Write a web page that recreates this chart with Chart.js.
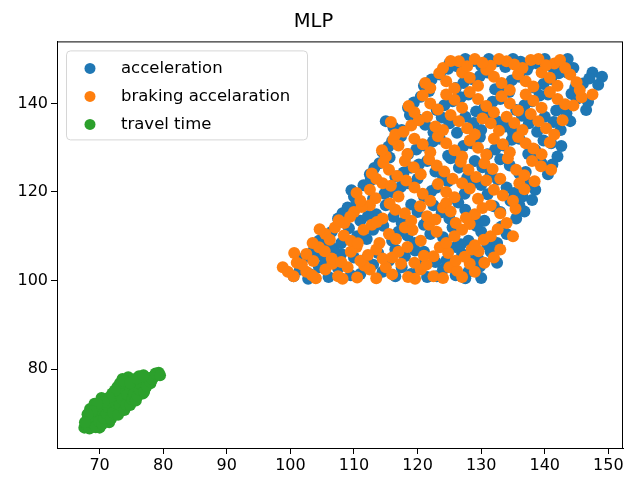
<!DOCTYPE html>
<html>
<head>
<meta charset="utf-8">
<script src="https://cdn.jsdelivr.net/npm/chart.js@4.4.1/dist/chart.umd.min.js"></script>
<style>
  body { margin: 0; background: #fff; }
  #contenedor { width: 629px; height: 479px; }
</style>
</head>
<body>
<div id="contenedor"><canvas id="grafica"></canvas></div>
<script>
// ==================== DATOS ====================
const titulo = 'MLP';
const etiquetas = ['acceleration', 'braking accelaration', 'travel time'];
const colores = ['#1f77b4', '#ff7f0e', '#2ca02c'];
const ticksX = [70, 80, 90, 100, 110, 120, 130, 140, 150];
const ticksY = [80, 100, 120, 140];

// puntos [x, y]
const acceleration = [
    [100.5,101],[101.5,102.5],[103,101.5],[104.5,103],[106,100.8],[111,101.5],[114.5,102],[116.5,101],[117.5,103],[119,101.5],[121.5,100.8],[124,102.5],[126,101.2],[128,102],[130,100.6],
    [102.8,100.4],[107.5,102.8],[109.5,101.2],[113,103.6],[120,103.5],[123,101],[125.5,103.8],[127.5,100.5],[129.8,103.2],
    [102,105],[103.5,106.5],[105.5,104.5],[108,106],[112,105],[115.5,104.5],[116.5,107],[118,105.5],[121,106.5],[124.5,104.5],[127,106],[129.5,105],[131.5,106.5],[132.5,104],
    [104.2,105.8],[106.8,107.2],[110,105.2],[113.8,106.2],[119.6,106.8],[122.8,104.2],[126,107.6],[128.2,104.8],[131,108],
    [104.5,109],[106.5,111],[108,108.5],[110.5,110],[113,111.5],[116,109],[117,111],[119.5,108.5],[122,110.5],[125.5,112],[128,109],[130,111],[132.5,108.5],[134,110.5],
    [105.6,108.2],[109.2,111.8],[112,109.4],[114.6,112.4],[118.4,110.2],[121,112.6],[124,109.8],[126.8,108.2],[129.2,112.4],[133.2,112.2],
    [107.5,114],[109,116.5],[111,113.5],[113.5,115],[115,117],[117.5,113],[120,115.5],[122.5,117],[125,114],[127.5,116],[130.5,113.5],[133,115.5],[135.5,114],[136,117],
    [108.2,115.2],[110.4,117.8],[112.2,114.6],[116.2,114.4],[119,117.2],[121.4,113.2],[123.8,115.4],[126.4,117.6],[129,114.2],[132,116.8],[134.6,118],[136.8,115.6],
    [110,119],[111.5,121.5],[113,118.5],[116,120],[118.5,122],[121,119],[123,121],[126,118.5],[128.5,122],[131,119.5],[134,121],[136.5,119],[138.5,120.5],[137.5,122],
    [109.6,120.4],[112.6,122.6],[114.8,119.6],[117.4,121.2],[120,123],[122.2,120.2],[124.8,122.4],[127.4,119.6],[130,121.6],[132.6,122.8],[135.2,119.8],[138,118.2],
    [112.5,124],[114,126.5],[116.5,123.5],[119,125.5],[121.5,127],[124,123.5],[126.5,125.5],[129,127],[131.5,124],[134.5,126],[137,124.5],[139.5,126.5],[140.5,124],
    [113.2,125.4],[115.6,127.8],[117.8,124.4],[120.2,126.2],[122.8,124.6],[125.2,127.6],[127.8,123.2],[130.2,125.6],[133,127.4],[136,124.2],[138.6,127.8],[141.2,126.2],
    [114.5,129],[116,131.5],[118.5,128.5],[121,130.5],[123.5,132],[126,129],[128.5,131],[131,128.5],[133.5,130.5],[136,132],[138.5,129.5],[141,131],[142,128],
    [115.4,130.2],[117.4,132.6],[119.8,129.6],[122.4,131.4],[124.8,128.2],[127.2,130.4],[129.8,132.4],[132.2,129.6],[134.8,131.8],[137.4,128.6],[139.8,131.6],[142.6,130.4],
    [115,136],[117.5,134],[120,136.5],[122.5,133.5],[125,135.5],[127.5,137],[130,134],[132.5,136],[135,133.5],[137.5,135.5],[140,137],[142.5,134],[144,136],
    [116.2,134.6],[118.8,137.4],[121.2,135.2],[123.8,136.8],[126.2,133.4],[128.8,135.6],[131.4,137.6],[133.8,134.8],[136.4,137.2],[138.8,133.6],[141.4,135.8],[143.4,137.8],
    [118.5,139],[120.5,141.5],[123,138.5],[125.5,140.5],[128,142],[130.5,139],[133,141],[135.5,138.5],[138,140.5],[140.5,142],[143,139.5],[145,141],[146.5,138.5],
    [119.4,140.2],[121.8,142.8],[124.2,139.6],[126.8,141.4],[129.2,138.2],[131.8,140.4],[134.4,142.6],[136.8,139.6],[139.2,141.8],[141.8,138.4],[144.2,142.2],[146.8,140.4],
    [121,144],[123.5,146.5],[126,143.5],[128.5,145.5],[131,147],[133.5,144],[136,146],[138.5,143.5],[141,145.5],[143.5,147],[146,144.5],[147.5,147],[149,146],
    [122.2,145.4],[124.8,147.8],[127.2,144.6],[129.8,146.2],[132.2,143.2],[134.8,145.2],[137.2,147.6],[139.8,144.4],[142.2,146.8],[144.8,143.6],[147,145.6],[148.4,144.2],
    [125,149],[127.5,150],[130,148.5],[132.5,149.5],[135,150],[137.5,148.5],[140,150],[142.5,149],[144.5,148],
    [126.2,148.4],[128.8,149.6],[131.2,150],[133.8,148.2],[136.2,149.4],[138.8,149],[141.2,148.2],[143.6,150]
];

const brakingAccelaration = [
    [98.8,103],[100.5,101],[102.5,102],[104,100.5],[105.5,102.5],[107.5,101],[109,103],[110.5,100.7],[112.5,102.5],[113.5,100.5],[115,103],[118.5,100.8],[120.5,102.5],[122.5,101],[125,103],[127,100.8],[129,102],
    [99.6,102],[101.8,103.6],[103.4,101.2],[106.6,103.8],[108.2,100.4],[111.6,103.4],[116,101.4],[117.4,103.8],[119.6,100.4],[121.4,103.6],[124,100.6],[126.2,102.2],[128.2,103.8],
    [101,104],[102.5,106],[104.5,107.5],[106.5,105],[109.5,106.5],[111,104.5],[113.5,107],[114.5,105],[117,106.5],[119.5,104],[122.5,105.5],[123.5,107.5],[126,104.5],[128.5,107],[130.5,104],[133,107],
    [100.6,106.2],[103.6,104.4],[105.4,106.6],[108,104.2],[110.4,107.6],[112.2,105.8],[116,105.2],[118.4,107.6],[121,105.6],[124.8,106.2],[127.4,105.4],[129.6,106.6],[132,105.2],
    [103.5,108.5],[105.5,110.5],[107,112],[109.5,109],[111.5,111.5],[114,108.5],[115.5,110.5],[118,112],[120.5,109],[123,111],[124.5,108.5],[127,111.5],[129,108],[131.5,110],[135,110],
    [104.6,111.6],[106.2,109.2],[108.4,110.2],[110.6,108.4],[112.8,112.6],[116.6,109.4],[119.2,111.4],[121.8,112.6],[125.8,110],[128.2,112.8],[130.4,109.2],[132.6,111.6],
    [108.5,113],[110,115.5],[112.5,117],[114.5,114],[116.5,116],[119,113.5],[121.5,114.5],[124,116.5],[126,113],[129,115],[131.5,117],[134,113],[124.5,117.5],
    [107.6,113.6],[109.4,114.4],[111.2,116.6],[113.6,113.2],[115.6,117.4],[118,115.2],[120.4,116.8],[122.8,113.8],[125.2,115.6],[127.6,114.2],[130.2,116.4],[133,115.2],[135.4,116.2],
    [111,118],[112.5,120.5],[114.5,122],[117,119],[119.5,121],[122,118],[124.5,120],[127,122],[129.5,118.5],[132,120.5],[135,118],[136,122],
    [110.4,119.8],[113.4,118.6],[115.8,121.4],[118.2,122.6],[120.8,119.6],[123.2,121.8],[125.8,118.8],[128.2,120.8],[130.8,122.6],[133.4,119.2],[136.8,120.6],[138.4,122.4],
    [113.5,123],[115.5,125],[118,127],[120.5,124],[123,126],[125.5,123],[128,125],[130.5,126.5],[133,123],[135.5,125],[138,127],[141,125],
    [112.8,124.2],[114.6,126.6],[116.8,123.6],[119.4,125.6],[121.8,127.4],[124.2,124.6],[126.8,126.8],[129.2,123.4],[131.8,125.2],[134.2,127.6],[136.8,123.8],[139.4,125.8],
    [115,128],[117,130.5],[119.5,132],[122,129],[124.5,131],[127,128],[129.5,130],[132,132],[134.5,129],[137,131],[139.5,128.5],
    [114.4,129.4],[116.2,131.8],[118.4,128.6],[120.8,130.8],[123.2,132.6],[125.8,129.4],[128.2,131.6],[130.8,128.4],[133.4,130.8],[135.8,132.4],[138.2,129.8],[140.8,131.2],
    [116.5,133],[119,135],[121.5,137],[124,134],[126.5,136],[129,133],[131.5,135.5],[134,137],[136.5,134],[139,136],[141.5,133],
    [115.8,135.8],[117.8,133.6],[120.2,136.2],[122.8,134.8],[125.2,137.4],[127.8,134.4],[130.2,136.6],[132.8,133.8],[135.2,135.6],[137.8,137.6],[140.2,134.4],[142.8,136.2],
    [119.5,138],[122,140],[124.5,142],[127,139],[129.5,141],[132,138],[134.5,140],[137,142],[139.5,139],[142,141],[144.5,139.5],[147.5,142],
    [118.6,139.4],[120.8,141.8],[123.2,138.6],[125.8,140.8],[128.2,142.6],[130.8,139.4],[133.2,141.6],[135.8,138.4],[138.2,140.6],[140.8,142.6],[143.2,139.8],[145.8,141.4],
    [122,143.5],[124.5,145],[127,147],[129.5,144],[132,146],[134.5,143],[137,145],[139.5,147],[142,144],[144,146.5],[145.5,143],
    [121.2,144.6],[123.4,146.8],[125.8,143.4],[128.2,145.8],[130.8,147.6],[133.2,144.6],[135.8,146.6],[138.2,143.8],[140.8,145.8],[143.2,148],[145,144.8],
    [124,148],[126.5,149.5],[129,150],[131.5,148.5],[134,149.5],[136.5,148],[139,150],[141.5,149],
    [125.2,149.6],[127.8,148.4],[130.2,149.2],[132.8,150],[135.2,148.8],[137.8,149.8],[140.2,148.6],[142.4,149.8]
];

const travelTime = [
    [67.6,66.8],[68,68.2],[68.3,69.5],[68.5,71],[69,67.5],[69.3,68.8],[69.6,70.2],[69.8,71.6],[70.2,68.5],[70.5,69.8],
    [70.8,71.2],[71,72.5],[71.3,69.2],[71.6,70.5],[71.9,71.8],[72.2,73.2],[72.4,70],[72.7,71.3],[73,72.6],[73.3,74],
    [73.5,71],[73.8,72.3],[74.1,73.6],[74.3,75],[74.6,72.4],[74.9,73.7],[75.2,75],[75.5,76.2],[75.8,73.8],[76.1,75],
    [76.4,76.4],[76.7,77.5],[77.2,75.8],[77.5,77],[77.8,78],[78.5,78.3],[79.3,79.2],[73.6,77.8],[74.5,78.2],[72.8,76],
    [68.2,67.2],[70,66.8],[71.5,68],[69.2,72.2],[70.3,73.5],[72,74.5],[73,75.5],[75.3,77.6],[76.2,78.4],[76.8,74.5],[78,76.8],
    [67.8,67.6],[68.4,66.6],[68.8,68],[69.2,69.4],[69.4,66.9],[69.9,68.2],[70.1,70.9],[70.4,67.6],[70.7,68.9],[71.1,70],
    [71.4,71.4],[71.8,68.8],[72.1,70.2],[72.5,72.4],[72.9,69.7],[73.2,71.9],[73.6,73.2],[73.9,70.8],[74.2,72],[74.4,74.2],
    [74.8,71.9],[75.1,73.2],[75.4,74.4],[75.7,72.9],[76,74],[76.3,75.4],[76.6,76.5],[77,74.9],[77.4,76.2],[77.9,77.2],
    [78.3,77.8],[78.8,79],[79.5,78.6],[73.2,76.8],[73.9,77.3],[74.8,76.9],[75.8,77.9],[72.4,75.2],[71.5,73.6],[70.6,72.6],
    [69.6,72.2],[68.8,70.5],[68.1,69.8],[67.7,68],[76.9,78.6]
];

// ==================== PLUGINS ====================
const marco = { // borde completo del area como en matplotlib
    id: 'marco',
    afterDraw(chart) {
        const { ctx, chartArea: a } = chart;
        ctx.save();
        ctx.strokeStyle = '#000';
        ctx.lineWidth = 1;
        ctx.strokeRect(a.left + 0.5, a.top + 0.5, a.right - a.left - 1, a.bottom - a.top);
        ctx.restore();
    }
};

const leyenda = {
    id: 'leyenda',
    afterDatasetsDraw(chart) {
        const { ctx, chartArea: a } = chart;
        const x = a.left + 9, y = a.top + 9;
        ctx.save();
        ctx.beginPath();
        ctx.roundRect(x + 0.5, y + 0.5, 241, 89, 4);
        ctx.fillStyle = 'rgba(255,255,255,0.8)';
        ctx.fill();
        ctx.strokeStyle = '#d6d6d6';
        ctx.lineWidth = 1;
        ctx.stroke();
        ctx.font = '16.5px "DejaVu Sans"';
        ctx.textBaseline = 'middle';
        chart.data.datasets.forEach((ds, i) => {
            const cy = y + 18 + i * 28;
            ctx.beginPath();
            ctx.arc(x + 24, cy, 5.5, 0, Math.PI * 2);
            ctx.fillStyle = ds.backgroundColor;
            ctx.fill();
            ctx.fillStyle = '#000';
            ctx.fillText(ds.label, x + 55, cy);
        });
        ctx.restore();
    }
};

// ==================== GRAFICA ====================
function crearDataset(puntos, i) {
    return {
        label: etiquetas[i],
        data: puntos.map(p => ({ x: p[0], y: p[1] })),
        backgroundColor: colores[i],
        borderWidth: 0,
        pointRadius: 6,
        pointHoverRadius: 6,
        order: 3 - i // el primero queda abajo
    };
}

const fuente = { family: 'DejaVu Sans', size: 16 };

new Chart(document.getElementById('grafica').getContext('2d'), {
    type: 'scatter',
    data: {
        datasets: [acceleration, brakingAccelaration, travelTime].map(crearDataset)
    },
    options: {
        responsive: true,
        maintainAspectRatio: false,
        animation: false,
        layout: { padding: { left: 0, right: 2, top: 0, bottom: 0 } },
        plugins: {
            legend: { display: false },
            tooltip: { enabled: false },
            title: {
                display: true,
                text: titulo,
                color: '#000',
                font: { family: 'DejaVu Sans', size: 19.5, weight: 'normal' },
                padding: { top: 10, bottom: 8 }
            }
        },
        scales: {
            x: {
                type: 'linear',
                min: 63.3,
                max: 152.3,
                afterBuildTicks: s => { s.ticks = ticksX.map(v => ({ value: v })); },
                afterFit: s => { s.height = 31; },
                ticks: { font: fuente, color: '#000', padding: 2, maxRotation: 0 },
                grid: { display: true, drawOnChartArea: false, drawTicks: true, tickLength: 6, color: '#000' },
                border: { display: true, color: '#000' }
            },
            y: {
                type: 'linear',
                min: 62.2,
                max: 154,
                afterBuildTicks: s => { s.ticks = ticksY.map(v => ({ value: v })); },
                afterFit: s => { s.width = 57; },
                ticks: { font: fuente, color: '#000', padding: 3 },
                grid: { display: true, drawOnChartArea: false, drawTicks: true, tickLength: 6, color: '#000' },
                border: { display: true, color: '#000' }
            }
        }
    },
    plugins: [leyenda, marco]
});
</script>
</body>
</html>
